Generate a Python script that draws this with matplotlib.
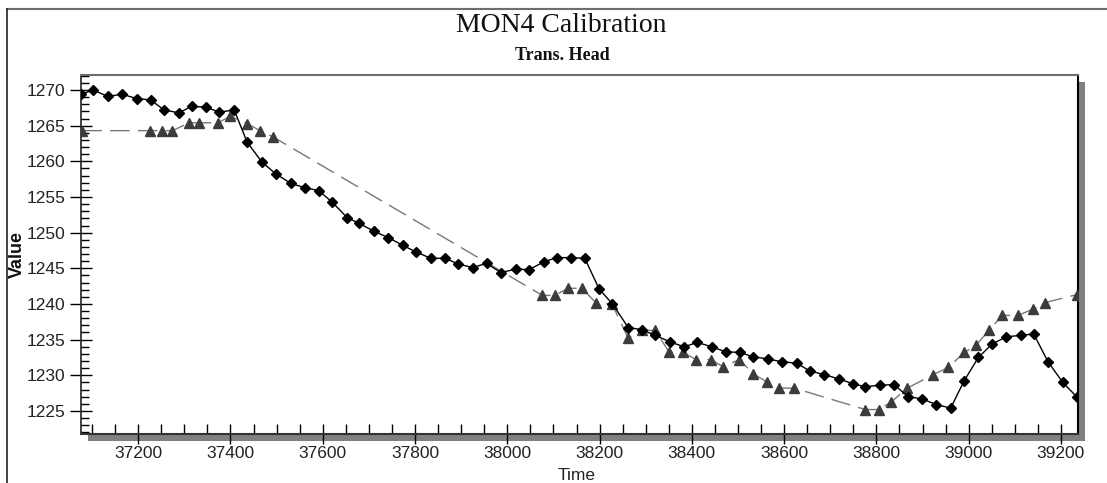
import matplotlib
matplotlib.use("Agg")
import matplotlib.pyplot as plt
from matplotlib.lines import Line2D
from matplotlib.patches import Rectangle
from matplotlib.ticker import MultipleLocator

# ---- data ----
obs_time = [37077, 37102, 37134, 37165, 37197, 37227, 37256, 37288, 37316, 37346,
            37376, 37408, 37436, 37468, 37499, 37531, 37561, 37591, 37620, 37653,
            37679, 37711, 37742, 37774, 37802, 37834, 37865, 37894, 37925, 37955,
            37986, 38019, 38047, 38079, 38107, 38139, 38168, 38199, 38228, 38262,
            38291, 38321, 38352, 38383, 38412, 38443, 38473, 38504, 38533, 38564,
            38595, 38627, 38656, 38687, 38718, 38750, 38775, 38807, 38838, 38869,
            38898, 38930, 38961, 38990, 39021, 39051, 39082, 39113, 39141, 39172,
            39204, 39234]
obs_value = [1269.4, 1270.0, 1269.1, 1269.4, 1268.8, 1268.6, 1267.2, 1266.8, 1267.7, 1267.6,
             1266.9, 1267.2, 1262.7, 1259.9, 1258.2, 1256.9, 1256.3, 1255.9, 1254.3, 1252.1,
             1251.3, 1250.2, 1249.3, 1248.2, 1247.3, 1246.4, 1246.4, 1245.6, 1245.1, 1245.7,
             1244.4, 1244.9, 1244.8, 1245.9, 1246.5, 1246.5, 1246.4, 1242.1, 1240.0, 1236.7,
             1236.4, 1235.6, 1234.7, 1234.0, 1234.6, 1234.0, 1233.3, 1233.2, 1232.6, 1232.3,
             1231.9, 1231.7, 1230.6, 1230.1, 1229.5, 1228.8, 1228.4, 1228.6, 1228.7, 1227.0,
             1226.7, 1225.9, 1225.4, 1229.2, 1232.5, 1234.4, 1235.4, 1235.6, 1235.8, 1231.9,
             1229.0, 1227.0]

sim_time = [37079, 37225, 37252, 37274, 37311, 37332, 37373, 37399, 37436, 37464,
            37493, 38076, 38103, 38132, 38162, 38193, 38227, 38262, 38291, 38321,
            38351, 38380, 38410, 38441, 38468, 38503, 38533, 38562, 38590, 38622,
            38776, 38805, 38831, 38867, 38923, 38956, 38990, 39016, 39044, 39073,
            39107, 39140, 39166, 39234]
sim_value = [1264.3, 1264.3, 1264.3, 1264.3, 1265.4, 1265.4, 1265.4, 1266.3, 1265.3, 1264.3,
             1263.4, 1241.2, 1241.2, 1242.2, 1242.2, 1240.1, 1240.0, 1235.2, 1236.3, 1236.3,
             1233.2, 1233.2, 1232.2, 1232.2, 1231.2, 1232.2, 1230.2, 1229.1, 1228.2, 1228.2,
             1225.2, 1225.2, 1226.2, 1228.2, 1230.1, 1231.1, 1233.2, 1234.2, 1236.3, 1238.4,
             1238.4, 1239.3, 1240.2, 1241.3]

title = "MON4 Calibration"
subtitle = "Trans. Head"
x_label = "Time"
y_label = "Value"

# ---- figure ----
W, H = 1107, 483
fig = plt.figure(figsize=(W / 100, H / 100), dpi=100)
fig.patch.set_facecolor("white")

L, R, T, B = 81, 1078, 75, 434
ax = fig.add_axes([L / W, 1 - B / H, (R - L) / W, (B - T) / H])
ax.set_facecolor("white")
ax.set_zorder(2)

# drop shadow behind the plot area
fig.add_artist(Rectangle((88 / W, 1 - 441 / H), (R + 7 - 88) / W, (441 - 82) / H,
                         transform=fig.transFigure, facecolor="#808080",
                         edgecolor="none", zorder=1))

# figure frame lines (top and left)
fig.add_artist(Line2D([7 / W, 1.0], [1 - 9 / H, 1 - 9 / H], transform=fig.transFigure,
                      color="#6e6e6e", lw=1.5, zorder=1))
fig.add_artist(Line2D([7 / W, 7 / W], [0, 1 - 9 / H], transform=fig.transFigure,
                      color="#222222", lw=1.2, zorder=1))

ax.plot(sim_time, sim_value, color="#777777", lw=1.0, linestyle=(0, (14, 6)),
        marker="^", markersize=7, markerfacecolor="#3c3c3c", markeredgecolor="#3c3c3c",
        zorder=3)
ax.plot(obs_time, obs_value, color="black", lw=1.0, linestyle="-",
        marker="D", markersize=5, markerfacecolor="black", markeredgecolor="black",
        zorder=4)

ax.set_xlim(37076, 39237)
ax.set_ylim(1221.77, 1272.1)

ax.xaxis.set_major_locator(MultipleLocator(200))
ax.xaxis.set_minor_locator(MultipleLocator(50))
ax.yaxis.set_major_locator(MultipleLocator(5))
ax.yaxis.set_minor_locator(MultipleLocator(1))

tick_font = dict(family="Liberation Sans", size=12)
ax.tick_params(axis="x", which="major", direction="inout", length=14, width=1,
               color="black", pad=2, labelsize=12.5, labelcolor="#222222")
ax.tick_params(axis="x", which="minor", direction="in", length=7, width=1, color="black")
ax.tick_params(axis="y", which="major", direction="inout", length=16, width=1,
               color="black", pad=3, labelsize=12.5, labelcolor="#222222")
ax.tick_params(axis="y", which="minor", direction="in", length=6, width=1, color="black")
for lbl in ax.get_xticklabels() + ax.get_yticklabels():
    lbl.set_fontfamily("Liberation Sans")

ax.spines["top"].set_color("#6e6e6e")
ax.spines["top"].set_linewidth(1.5)
ax.spines["left"].set_color("#222222")
ax.spines["left"].set_linewidth(1.2)
ax.spines["bottom"].set_color("#333333")
ax.spines["bottom"].set_linewidth(1.5)
ax.spines["right"].set_color("black")
ax.spines["right"].set_linewidth(1.5)

fig.text(17 / W, 1 - 254 / H, y_label, rotation=90, ha="center", va="center",
         fontsize=13, fontweight="bold", family="Liberation Sans", color="#111111")
fig.text(577 / W, 1 - 476 / H, x_label, ha="center", va="center",
         fontsize=12.5, family="Liberation Sans", color="#222222")

fig.text(561 / W, 1 - 26 / H, title, ha="center", va="center",
         fontsize=20, family="Liberation Serif", color="#111111")
fig.text(562 / W, 1 - 55 / H, subtitle, ha="center", va="center",
         fontsize=13, fontweight="bold", family="Liberation Serif", color="#111111")

fig.savefig("out.png", dpi=100, facecolor="white")
